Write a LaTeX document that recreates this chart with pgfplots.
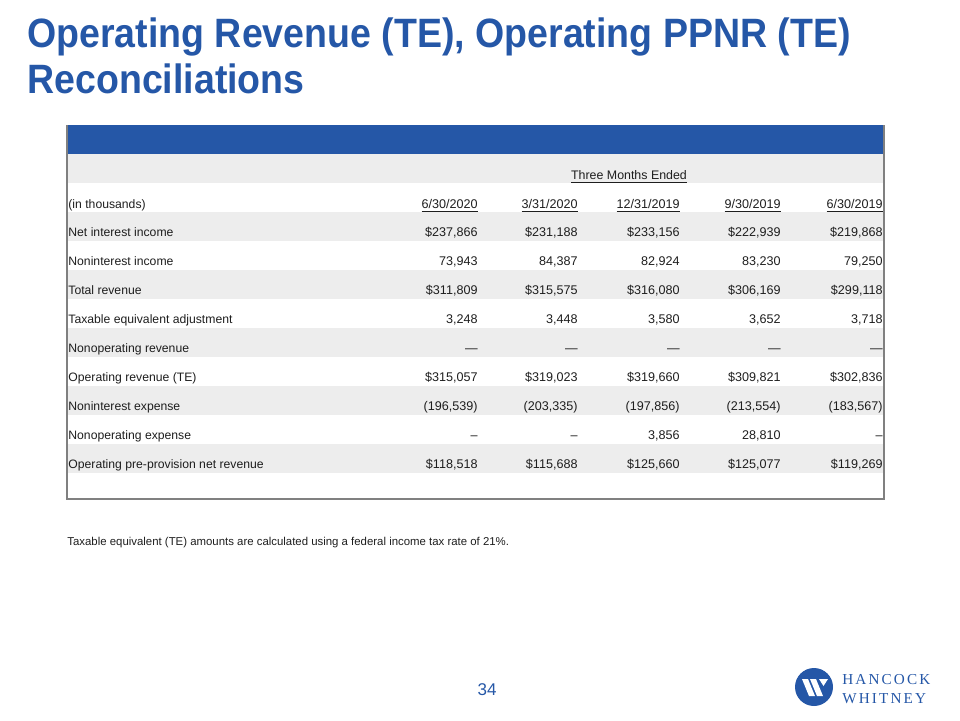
\documentclass[border=0pt]{standalone}
\usepackage{pgfplots}
\pgfplotsset{compat=1.18}
\usepackage{fontspec}
\setmainfont{Liberation Sans}
\newfontfamily\titlefont[FakeStretch=0.915]{Liberation Sans}
\newfontfamily\logofont[LetterSpace=14]{Liberation Serif}
\definecolor{hwblue}{RGB}{37,87,167}
\definecolor{band}{RGB}{237,237,237}
\definecolor{bord}{RGB}{128,128,128}
\definecolor{txt}{RGB}{30,30,30}
\newcommand\row[7]{%
  \node[lbl] at (axis cs:68,#1) {#2};
  \node[val] at (axis cs:478,#1) {#3};
  \node[val] at (axis cs:578,#1) {#4};
  \node[val] at (axis cs:680,#1) {#5};
  \node[val] at (axis cs:781,#1) {#6};
  \node[val] at (axis cs:883,#1) {#7};
}
\newcommand\band[1]{\fill[band] (axis cs:67.5,#1) rectangle (axis cs:884,#1+29);}
\begin{document}
\begin{tikzpicture}[
  lbl/.style={anchor=base west, inner sep=0pt, font=\fontsize{6.1pt}{7pt}\selectfont, text=txt},
  val/.style={anchor=base east, inner sep=0pt, font=\fontsize{6.3pt}{7pt}\selectfont, text=txt}]
\begin{axis}[scale only axis, width=480pt, height=360pt,
  xmin=0, xmax=960, ymin=0, ymax=720, y dir=reverse,
  axis lines=none, ticks=none, clip=false]
\path (axis cs:0,0) rectangle (axis cs:960,720);
% title
\node[anchor=base west, inner sep=0pt, text=hwblue, font=\titlefont\bfseries\fontsize{20.5pt}{22pt}\selectfont] at (axis cs:27,47) {Operating Revenue (TE), Operating PPNR (TE)};
\node[anchor=base west, inner sep=0pt, text=hwblue, font=\titlefont\bfseries\fontsize{20.5pt}{22pt}\selectfont] at (axis cs:27,93) {Reconciliations};
% table background
\fill[hwblue] (axis cs:67,125) rectangle (axis cs:884.5,154);
\band{154}\band{212}\band{270}\band{328}\band{386}\band{444}
\draw[bord, line width=0.6pt] (axis cs:67,125) -- (axis cs:67,499) -- (axis cs:884,499) -- (axis cs:884,125);
% header
\node[anchor=base, inner sep=0pt, font=\fontsize{6.2pt}{7pt}\selectfont, text=txt] at (axis cs:629,179.5) {\underline{Three Months Ended}};
\row{208.5}{(in thousands)}{\underline{6/30/2020}}{\underline{3/31/2020}}{\underline{12/31/2019}}{\underline{9/30/2019}}{\underline{6/30/2019}}
\row{236.5}{Net interest income}{\$237,866}{\$231,188}{\$233,156}{\$222,939}{\$219,868}
\row{265.5}{Noninterest income}{73,943}{84,387}{82,924}{83,230}{79,250}
\row{294.5}{Total revenue}{\$311,809}{\$315,575}{\$316,080}{\$306,169}{\$299,118}
\row{323.5}{Taxable equivalent adjustment}{3,248}{3,448}{3,580}{3,652}{3,718}
\row{352.5}{Nonoperating revenue}{—}{—}{—}{—}{—}
\row{381.5}{Operating revenue (TE)}{\$315,057}{\$319,023}{\$319,660}{\$309,821}{\$302,836}
\row{410.5}{Noninterest expense}{(196,539)}{(203,335)}{(197,856)}{(213,554)}{(183,567)}
\row{439.5}{Nonoperating expense}{–}{–}{3,856}{28,810}{–}
\row{468.5}{Operating pre-provision net revenue}{\$118,518}{\$115,688}{\$125,660}{\$125,077}{\$119,269}
% footnote
\node[anchor=base west, inner sep=0pt, font=\fontsize{5.7pt}{7pt}\selectfont, text=txt] at (axis cs:67,545) {Taxable equivalent (TE) amounts are calculated using a federal income tax rate of 21\%.};
% page number
\node[anchor=base, inner sep=0pt, text=hwblue, font=\fontsize{8.5pt}{9pt}\selectfont] at (axis cs:487,695) {34};
% logo
\fill[hwblue] (axis cs:814,687) circle[radius=9.5pt];
\fill[white] (axis cs:802,679) -- (axis cs:808,679) -- (axis cs:815,696) -- (axis cs:809,696) -- cycle;
\fill[white] (axis cs:810,679) -- (axis cs:816,679) -- (axis cs:823,696) -- (axis cs:817,696) -- cycle;
\fill[white] (axis cs:819,679) -- (axis cs:828,679) -- (axis cs:823.5,686) -- cycle;
\node[anchor=base west, inner sep=0pt, text=hwblue, font=\logofont\fontsize{7.6pt}{8pt}\selectfont] at (axis cs:842,684) {HANCOCK};
\node[anchor=base west, inner sep=0pt, text=hwblue, font=\logofont\fontsize{7.6pt}{8pt}\selectfont] at (axis cs:842,703) {WHITNEY};
\end{axis}
\end{tikzpicture}
\end{document}
